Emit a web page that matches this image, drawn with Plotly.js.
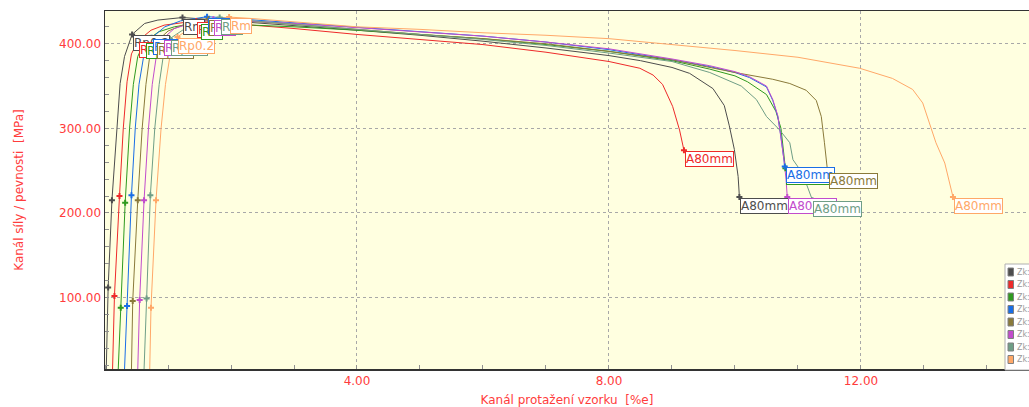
<!DOCTYPE html>
<html>
<head>
<meta charset="utf-8">
<script src="https://cdn.plot.ly/plotly-3.0.1.min.js"></script>
<style>
html,body{margin:0;padding:0;background:#ffffff;}
#chart{width:1029px;height:407px;}
</style>
</head>
<body>
<div id="chart"></div>
<script>
// ---- Specimen names and colours ----
const specimens = ['Zk: 1', 'Zk: 2', 'Zk: 3', 'Zk: 4', 'Zk: 5', 'Zk: 6', 'Zk: 7', 'Zk: 8'];
const colors = ['#4d4d4d', '#ee2a2a', '#2f9a1f', '#1a6ee6', '#8a7a3a', '#c24ccc', '#6f9e86', '#ffa868'];

// ---- Curves: elongation [%] and stress [MPa] ----
const x_zk1 = [0.02, 0.05, 0.11, 0.19, 0.24, 0.31, 0.43, 0.63, 0.84, 1.23, 1.6, 2.0, 3.0, 4.0, 5.0, 6.0, 7.0, 8.0, 8.5, 9.0, 9.28, 9.65, 9.83, 9.91, 9.99, 10.05, 10.07];
const y_zk1 = [15, 112, 215, 300, 353, 385, 411, 424, 428, 431, 429, 427, 422, 416, 410, 403, 395, 386, 380, 372, 365, 347, 327, 303, 275, 243, 219];

const x_zk2 = [0.12, 0.15, 0.23, 0.29, 0.35, 0.42, 0.52, 0.73, 0.94, 1.2, 1.45, 2.0, 3.0, 4.0, 5.0, 6.0, 7.0, 8.0, 8.49, 8.7, 8.85, 9.01, 9.12, 9.19];
const y_zk2 = [15, 102, 220, 300, 355, 388, 403, 416, 422, 425, 427, 424, 418, 411, 405, 399, 390, 379, 371, 363, 352, 326, 298, 274];

const x_zk3 = [0.21, 0.25, 0.32, 0.39, 0.45, 0.52, 0.63, 0.85, 1.1, 1.5, 2.0, 3.0, 4.0, 5.0, 6.0, 7.0, 8.0, 9.0, 9.6, 10.0, 10.2, 10.5, 10.65, 10.73, 10.8];
const y_zk3 = [15, 88, 212, 300, 352, 385, 402, 414, 420, 425, 423, 420, 416, 411, 406, 399, 391, 380, 370, 362, 355, 340, 320, 300, 253];

const x_zk4 = [0.31, 0.35, 0.42, 0.48, 0.54, 0.62, 0.74, 0.95, 1.2, 1.62, 2.0, 3.0, 4.0, 5.0, 6.0, 7.0, 8.0, 9.0, 9.6, 10.0, 10.23, 10.5, 10.6, 10.68, 10.73, 10.79];
const y_zk4 = [15, 90, 221, 300, 352, 388, 407, 420, 427, 432, 430, 425, 419, 414, 409, 402, 393, 381, 373, 366, 360, 349, 333, 314, 290, 255];

const x_zk5 = [0.42, 0.44, 0.52, 0.59, 0.65, 0.71, 0.81, 1.0, 1.3, 1.64, 2.0, 3.0, 4.0, 5.0, 6.0, 7.0, 8.0, 9.0, 10.0, 10.28, 10.6, 10.87, 11.13, 11.29, 11.37, 11.42, 11.47];
const y_zk5 = [15, 96, 215, 300, 352, 385, 402, 415, 424, 429, 428, 423, 417, 411, 406, 400, 391, 381, 366, 362, 358, 353, 345, 333, 314, 283, 249];

const x_zk6 = [0.52, 0.55, 0.62, 0.69, 0.75, 0.82, 0.92, 1.1, 1.4, 1.72, 2.0, 3.0, 4.0, 5.0, 6.0, 7.0, 8.0, 9.0, 9.6, 10.0, 10.23, 10.5, 10.6, 10.68, 10.73, 10.78, 10.81, 10.83];
const y_zk6 = [15, 97, 215, 300, 352, 388, 406, 418, 425, 429, 428, 424, 419, 414, 409, 402, 394, 382, 374, 367, 361, 350, 334, 315, 291, 262, 240, 219];

const x_zk7 = [0.62, 0.66, 0.72, 0.79, 0.86, 0.93, 1.03, 1.25, 1.5, 1.82, 2.2, 3.0, 4.0, 5.0, 6.0, 7.0, 8.0, 9.0, 9.6, 10.1, 10.34, 10.5, 10.71, 10.87, 10.92, 11.07, 11.23];
const y_zk7 = [15, 99, 221, 300, 352, 388, 406, 417, 424, 431, 428, 423, 417, 411, 405, 398, 389, 379, 366, 350, 334, 314, 298, 283, 263, 247, 215];

const x_zk8 = [0.71, 0.73, 0.81, 0.89, 0.96, 1.03, 1.15, 1.4, 1.7, 1.97, 2.3, 3.0, 4.0, 5.0, 6.0, 7.0, 8.0, 9.0, 10.0, 11.0, 11.98, 12.5, 12.82, 12.98, 13.09, 13.19, 13.33, 13.4, 13.46];
const y_zk8 = [15, 88, 215, 300, 352, 385, 408, 421, 428, 431.5, 430, 426, 420, 417, 413, 410, 406, 399, 392, 384, 371, 359, 346, 330, 306, 283, 259, 239, 219];

// ---- Characteristic points ----
const eLoX = [0.05, 0.15, 0.25, 0.35, 0.44, 0.55, 0.66, 0.73];
const eLoY = [112, 102, 88, 90, 96, 97, 99, 88];
const eHiX = [0.11, 0.23, 0.32, 0.42, 0.52, 0.62, 0.72, 0.81];
const eHiY = [215, 220, 212, 221, 215, 215, 221, 215];
const rpX = [0.43, 0.52, 0.63, 0.74, 0.81, 0.92, 1.03, 1.15];
const rpY = [411, 403, 402, 407, 402, 406, 406, 408];
const rmX = [1.23, 1.45, 1.5, 1.62, 1.64, 1.72, 1.82, 1.97];
const rmY = [431, 427, 425, 432, 429, 429, 431, 431.5];
const a80X = [10.07, 9.19, 10.8, 10.79, 11.47, 10.83, 11.23, 13.46];
const a80Y = [219, 274, 253, 255, 249, 219, 215, 219];

// ---- Labels ----
const rpLabel = 'Rp0.2';
const rmLabel = 'Rm';
const aLabel = 'A80mm';
const xTickVals = [4, 8, 12];
const xTickText = ['4.00', '8.00', '12.00'];
const yTickVals = [100, 200, 300, 400];
const yTickText = ['100.00', '200.00', '300.00', '400.00'];

const curvesX = [x_zk1, x_zk2, x_zk3, x_zk4, x_zk5, x_zk6, x_zk7, x_zk8];
const curvesY = [y_zk1, y_zk2, y_zk3, y_zk4, y_zk5, y_zk6, y_zk7, y_zk8];

const traces = [];
specimens.forEach((name, i) => {
  traces.push({
    type: 'scatter', mode: 'lines', name: name,
    x: curvesX[i], y: curvesY[i],
    line: {color: colors[i], width: 1},
    hoverinfo: 'skip'
  });
});
specimens.forEach((name, i) => {
  traces.push({
    type: 'scatter', mode: 'markers', name: name + ' body', showlegend: false,
    x: [eLoX[i], eHiX[i], rpX[i], rmX[i], a80X[i]],
    y: [eLoY[i], eHiY[i], rpY[i], rmY[i], a80Y[i]],
    marker: {symbol: 'cross', size: 5, color: colors[i], line: {width: 0}},
    hoverinfo: 'skip'
  });
});

const annotations = [];
function label(x, y, text, color) {
  return {
    x: x, y: y, xref: 'x', yref: 'y', text: text, showarrow: false,
    xanchor: 'left', yanchor: 'top', xshift: 1, yshift: -1,
    font: {family: 'DejaVu Sans', size: 12, color: color},
    bgcolor: '#ffffff', bordercolor: color, borderwidth: 1, borderpad: 0
  };
}
specimens.forEach((n, i) => annotations.push(label(rpX[i], rpY[i], rpLabel, colors[i])));
specimens.forEach((n, i) => annotations.push(label(rmX[i], rmY[i], rmLabel, colors[i])));
specimens.forEach((n, i) => annotations.push(label(a80X[i], a80Y[i], aLabel, colors[i])));

// ---- Legend box (partly cut by the right edge, as in the reference) ----
const shapes = [];
const L = 105, W = 924, T = 11, H = 358;
function px2x(p) { return (p - L) / W; }
function py2y(p) { return (T + H - p) / H; }
shapes.push({type: 'rect', xref: 'paper', yref: 'paper',
  x0: px2x(1005), x1: px2x(1060), y0: py2y(370), y1: py2y(264),
  fillcolor: '#ffffff', line: {color: '#b0b0b0', width: 1}, layer: 'above'});
specimens.forEach((n, i) => {
  const cy = 272 + 12.5 * i;
  shapes.push({type: 'rect', xref: 'paper', yref: 'paper',
    x0: px2x(1008), x1: px2x(1013.5), y0: py2y(cy + 4), y1: py2y(cy - 4),
    fillcolor: colors[i], line: {color: '#808080', width: 1}, layer: 'above'});
  annotations.push({xref: 'paper', yref: 'paper', x: px2x(1015), y: py2y(cy),
    xanchor: 'left', yanchor: 'middle', showarrow: false, text: n,
    font: {family: 'DejaVu Sans', size: 8, color: '#9a9a9a'}});
});

const axisRed = '#ff3c3c';
const layout = {
  width: 1029, height: 407,
  margin: {l: L, r: 0, t: T, b: 407 - T - H, pad: 0},
  paper_bgcolor: '#ffffff', plot_bgcolor: '#ffffe0',
  showlegend: false,
  font: {family: 'DejaVu Sans', size: 12, color: axisRed},
  xaxis: {
    range: [0, 14.667], tickmode: 'array', tickvals: xTickVals, ticktext: xTickText,
    showgrid: true, gridcolor: '#a8a8a8', griddash: '3px,3px', gridwidth: 1,
    zeroline: false, showline: true, linecolor: '#333333', linewidth: 1.5, mirror: true,
    ticks: '', tickfont: {family: 'DejaVu Sans', size: 12, color: axisRed},
    minor: {tickmode: 'linear', tick0: 0, dtick: 1, ticks: 'inside', ticklen: 4, tickcolor: '#909090', showgrid: false},
    title: {text: 'Kanál protažení vzorku  [%e]', font: {family: 'DejaVu Sans', size: 12, color: axisRed}, standoff: 10},
    automargin: false, fixedrange: true
  },
  yaxis: {
    range: [15.6, 438.7], tickmode: 'array', tickvals: yTickVals, ticktext: yTickText,
    showgrid: true, gridcolor: '#a8a8a8', griddash: '3px,3px', gridwidth: 1,
    zeroline: false, showline: true, linecolor: '#333333', linewidth: 1.5,
    ticks: '', tickfont: {family: 'DejaVu Sans', size: 12, color: axisRed},
    minor: {tickmode: 'linear', tick0: 0, dtick: 20, ticks: 'inside', ticklen: 4, tickcolor: '#909090', showgrid: false},
    title: {text: 'Kanál síly / pevnosti  [MPa]', font: {family: 'DejaVu Sans', size: 12, color: axisRed}, standoff: 33},
    automargin: false, fixedrange: true
  },
  annotations: annotations,
  shapes: shapes
};

Plotly.newPlot('chart', traces, layout, {displayModeBar: false, staticPlot: true});
</script>
</body>
</html>
